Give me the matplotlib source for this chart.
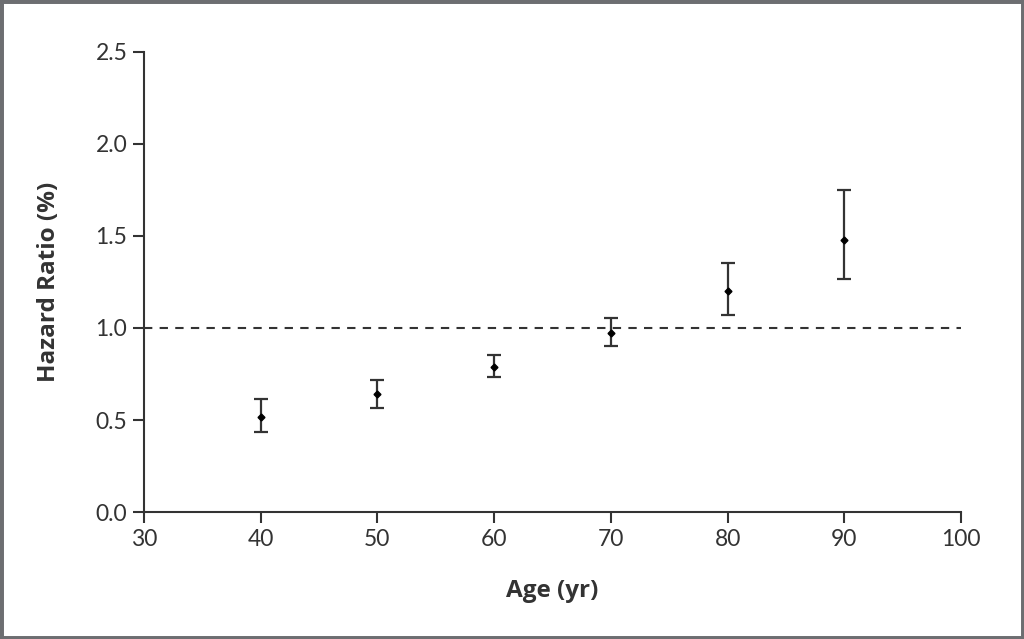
#!/usr/bin/env python3
"""
    Hazard ratio by age, point estimates with confidence intervals
"""

from matplotlib import pyplot as plt
from matplotlib.patches import Rectangle

age = [40, 50, 60, 70, 80, 90]
hazard = [0.515, 0.64, 0.79, 0.975, 1.20, 1.48]
ci_low = [0.437, 0.565, 0.732, 0.90, 1.069, 1.265]
ci_high = [0.612, 0.719, 0.853, 1.054, 1.351, 1.752]

x_ticks = [30, 40, 50, 60, 70, 80, 90, 100]
y_ticks = [0.0, 0.5, 1.0, 1.5, 2.0, 2.5]


def main() -> int:
    plt.rcParams["font.family"] = ["Lato", "DejaVu Sans"]
    fig = plt.figure(figsize=(10.24, 6.39), dpi=100)
    ax = fig.add_axes([0.1406, 0.1987, 0.798, 0.72])

    err = [[h - lo for h, lo in zip(hazard, ci_low)],
           [hi - h for h, hi in zip(hazard, ci_high)]]
    ax.errorbar(age, hazard, yerr=err, fmt="D", color="black", ecolor="#333333",
                markersize=3.5, elinewidth=1.6, capsize=5, capthick=1.6)
    ax.axhline(1.0, color="#333333", linestyle=(0, (4, 3.5)), linewidth=1.5)

    ax.set_xlim(30, 100)
    ax.set_ylim(0, 2.5)
    ax.set_xticks(x_ticks)
    ax.set_yticks(y_ticks)
    ax.set_yticklabels([f"{v:.1f}" for v in y_ticks])
    for side in ["top", "right"]:
        ax.spines[side].set_visible(False)
    for side in ["left", "bottom"]:
        ax.spines[side].set_linewidth(1.5)
        ax.spines[side].set_color("#333333")
    ax.tick_params(length=8, width=1.5, color="#333333", labelsize=16.5,
                   labelcolor="#333333", pad=4)

    label_font = dict(family=["Open Sans", "DejaVu Sans"], fontsize=17.5,
                      fontweight="bold", color="#333333")
    ax.set_xlabel("Age (yr)", labelpad=21, **label_font)
    ax.set_ylabel("Hazard Ratio (%)", labelpad=25, **label_font)

    fig.patches.append(Rectangle((0, 0), 1, 1, transform=fig.transFigure, fill=False,
                                 edgecolor="#6d6e71", linewidth=5, zorder=10))
    fig.savefig("out.png", dpi=100)
    plt.close()
    return 0


if __name__ == "__main__":
    raise SystemExit(main())
